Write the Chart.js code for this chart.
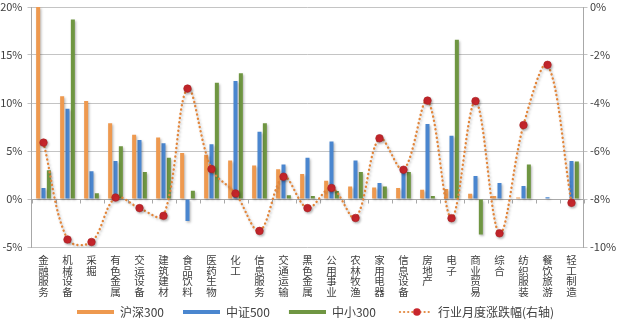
<!DOCTYPE html>
<html><head><meta charset="utf-8">
<script src="https://cdn.jsdelivr.net/npm/chart.js@4.4.0/dist/chart.umd.min.js"></script>
<style>html,body{margin:0;padding:0;background:#fff}#wrap{width:618px;height:322px}</style>
</head><body><div id="wrap"><canvas id="c" width="618" height="322"></canvas></div>
<script>
const categories = ['金融服务','机械设备','采掘','有色金属','交运设备','建筑建材','食品饮料','医药生物','化工','信息服务','交通运输','黑色金属','公用事业','农林牧渔','家用电器','信息设备','房地产','电子','商业贸易','综合','纺织服装','餐饮旅游','轻工制造'];
const hs300 = [20.0, 10.7, 10.2, 7.9, 6.7, 6.4, 4.8, 4.6, 4.0, 3.5, 3.1, 2.6, 1.9, 1.3, 1.2, 1.15, 0.97, 1.05, 0.55, 0.3, 0.15, 0.05, 0];
const zz500 = [1.15, 9.4, 2.9, 3.96, 6.15, 5.8, -2.3, 5.7, 12.3, 7.0, 3.6, 4.3, 6.0, 4.0, 1.67, 2.8, 7.8, 6.6, 2.4, 1.67, 1.35, 0.17, 3.96];
const zx300 = [3.0, 18.7, 0.6, 5.5, 2.8, 4.3, 0.87, 12.1, 13.1, 7.9, 0.4, 0.3, 0.83, 2.8, 1.3, 2.8, 0.3, 16.6, -3.7, 0, 3.6, 0, 3.9];
const monthly = [-5.65, -9.69, -9.79, -7.94, -8.38, -8.7, -3.4, -6.75, -7.77, -9.33, -7.07, -8.38, -7.54, -8.79, -5.47, -6.78, -3.9, -8.8, -3.92, -9.43, -4.92, -2.41, -8.16];
const seriesNames = ['沪深300', '中证500', '中小300', '行业月度涨跌幅(右轴)'];
const leftRange = [-5, 20, 5];
const rightRange = [-10, 0, 2];

const FONT = "'Noto Sans CJK SC', 'Noto Sans', sans-serif";
const C_OR = '#EE994F', C_BL = '#4A86CF', C_GR = '#6F9642', C_LINE = '#E2853A', C_DOT = '#C8262C';
const TXT = '#404040', GRID = '#C4C4C4', AXIS = '#A8A8A8';

function swatchBar(color) {
  const c = document.createElement('canvas'); c.width = 50; c.height = 4;
  const g = c.getContext('2d'); g.fillStyle = color; g.fillRect(13, 0, 37, 4); return c;
}
function swatchLine() {
  const c = document.createElement('canvas'); c.width = 50; c.height = 10;
  const g = c.getContext('2d');
  g.strokeStyle = C_LINE; g.lineWidth = 2.2; g.lineCap = 'round'; g.setLineDash([0.1, 4]);
  g.beginPath(); g.moveTo(18, 5); g.lineTo(50, 5); g.stroke();
  g.setLineDash([]); g.fillStyle = C_DOT; g.beginPath(); g.arc(35, 5, 3.8, 0, Math.PI * 2); g.fill();
  return c;
}

const zeroTicks = {
  id: 'zeroTicks',
  beforeDatasetsDraw(chart) {
    const x = chart.scales.x, y = chart.scales.y, ctx = chart.ctx;
    const y0 = Math.round(y.getPixelForValue(0)) + 0.5;
    ctx.save(); ctx.strokeStyle = AXIS; ctx.lineWidth = 1;
    ctx.beginPath(); ctx.moveTo(x.left, y0); ctx.lineTo(x.right, y0); ctx.stroke();
    const n = categories.length;
    for (let i = 0; i <= n; i++) {
      const px = Math.round(x.left + (x.right - x.left) * i / n) + 0.5;
      ctx.beginPath(); ctx.moveTo(px, y0); ctx.lineTo(px, y0 + 4); ctx.stroke();
    }
    ctx.restore();
  },
  beforeDatasetDraw(chart, args) {
    const ctx = chart.ctx; ctx.save();
    ctx.shadowColor = 'rgba(0,0,0,0.28)'; ctx.shadowBlur = 2.5; ctx.shadowOffsetX = 1.2; ctx.shadowOffsetY = 1.5;
  },
  afterDatasetDraw(chart) { chart.ctx.restore(); }
};

new Chart(document.getElementById('c'), {
  data: {
    labels: categories.map(s => s.split('')),
    datasets: [
      { type: 'line', label: seriesNames[3], data: monthly, yAxisID: 'y2', order: 0,
        borderColor: C_LINE, borderWidth: 2.4, borderDash: [0.1, 4.2], borderCapStyle: 'round',
        tension: 0.35, pointRadius: 3.8, pointBackgroundColor: C_DOT, pointBorderColor: '#A81E22',
        pointBorderWidth: 0.6, fill: false },
      { type: 'bar', label: seriesNames[0], data: hs300, yAxisID: 'y', backgroundColor: C_OR, order: 1,
        barPercentage: 0.75, categoryPercentage: 0.67 },
      { type: 'bar', label: seriesNames[1], data: zz500, yAxisID: 'y', backgroundColor: C_BL, order: 1,
        barPercentage: 0.75, categoryPercentage: 0.67 },
      { type: 'bar', label: seriesNames[2], data: zx300, yAxisID: 'y', backgroundColor: C_GR, order: 1,
        barPercentage: 0.75, categoryPercentage: 0.67 }
    ]
  },
  options: {
    responsive: false, animation: false,
    layout: { padding: { top: 0, bottom: -6, left: 0, right: 0 } },
    scales: {
      x: {
        grid: { display: false, drawTicks: false }, border: { display: false },
        ticks: { maxRotation: 0, minRotation: 0, autoSkip: false, padding: 8, color: TXT,
          font: { family: FONT, size: 10.5, lineHeight: 1.0 } },
        afterFit: s => { s.height = 53; }
      },
      y: {
        position: 'left', min: leftRange[0], max: leftRange[1],
        grid: { color: GRID, tickLength: 4, drawTicks: true },
        border: { display: true, color: AXIS },
        ticks: { stepSize: leftRange[2], padding: 5, color: TXT, callback: v => v + '%',
          font: { family: FONT, size: 11 } },
        afterFit: s => { s.width = 31.5; s.paddingTop = 7; s.paddingBottom = 0; }
      },
      y2: {
        position: 'right', min: rightRange[0], max: rightRange[1],
        grid: { display: true, drawOnChartArea: false, color: GRID, tickLength: 4 },
        border: { display: true, color: AXIS },
        ticks: { stepSize: rightRange[2], padding: 2.5, color: TXT, callback: v => v + '%',
          font: { family: FONT, size: 11 } },
        afterFit: s => { s.width = 34.5; s.paddingTop = 7; s.paddingBottom = 0; }
      }
    },
    plugins: {
      tooltip: { enabled: false },
      legend: {
        position: 'bottom',
        labels: {
          usePointStyle: true, pointStyleWidth: 50, padding: 6, color: TXT,
          font: { family: FONT, size: 12 },
          generateLabels: () => [
            { text: seriesNames[0], pointStyle: swatchBar(C_OR), fillStyle: C_OR, strokeStyle: C_OR, lineWidth: 0, fontColor: TXT, datasetIndex: 1 },
            { text: seriesNames[1], pointStyle: swatchBar(C_BL), fillStyle: C_BL, strokeStyle: C_BL, lineWidth: 0, fontColor: TXT, datasetIndex: 2 },
            { text: seriesNames[2], pointStyle: swatchBar(C_GR), fillStyle: C_GR, strokeStyle: C_GR, lineWidth: 0, fontColor: TXT, datasetIndex: 3 },
            { text: seriesNames[3], pointStyle: swatchLine(), fillStyle: C_DOT, strokeStyle: C_DOT, lineWidth: 0, fontColor: TXT, datasetIndex: 0 }
          ]
        }
      }
    }
  },
  plugins: [zeroTicks]
});
</script></body></html>
